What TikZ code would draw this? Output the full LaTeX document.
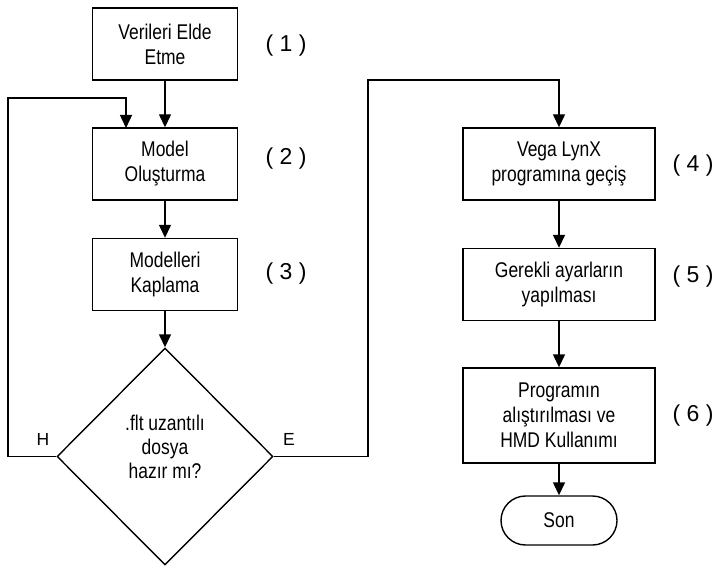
\documentclass[tikz,border=0pt]{standalone}
\usepackage{fontspec}
\setmainfont{Liberation Sans}
\newfontfamily\dar[FakeStretch=0.82]{Liberation Sans}
\usetikzlibrary{arrows.meta,shapes.geometric,shapes.misc}

\tikzset{
  kutu/.style={draw, line width=1.4pt, rectangle, minimum width=145pt,
    minimum height=72pt, inner sep=0pt, align=center,
    font=\dar\fontsize{21.3}{25}\selectfont},
  genis/.style={kutu, minimum width=192pt},
  karar/.style={draw, line width=1.4pt, diamond, inner sep=0pt,
    minimum width=216pt, minimum height=217pt},
  bitis/.style={draw, line width=1.4pt, rounded rectangle, inner sep=0pt,
    minimum width=116pt, minimum height=49pt, font=\dar\fontsize{21.3}{25}\selectfont},
  adim/.style={font=\fontsize{23}{26}\selectfont},
  yazi/.style={align=center, font=\dar\fontsize{21.3}{24}\selectfont},
  dal/.style={font=\fontsize{17.5}{20}\selectfont},
  ok/.style={line width=1.4pt, -{Triangle[length=13pt,width=12pt]}}
}

\begin{document}
\begin{tikzpicture}[x=1pt, y=-1pt, line join=miter]
      \useasboundingbox (0,0) rectangle (715,567);
      \def\sol{165}
      \def\sag{559}

      % Left column
      \node[kutu] (veri) at (\sol, 44) {Verileri Elde\\Etme};
      \node[kutu] (model) at (\sol, 164) {Model\\Oluşturma};
      \node[kutu] (kaplama) at (\sol, 274.5) {Modelleri\\Kaplama};
      \node[karar] (soru) at (\sol, 456.5) {};
      \node[yazi] (soruyazi) at (\sol, 447) {.flt uzantılı\\dosya\\hazır mı?};

      % Right column
      \node[genis] (vega) at (\sag, 164) {Vega LynX\\programına geçiş};
      \node[genis] (ayar) at (\sag, 284.5) {Gerekli ayarların\\yapılması};
      \node[genis, minimum height=95pt] (program) at (\sag, 415.5) {Programın\\alıştırılması ve\\HMD Kullanımı};
      \node[bitis] (son) at (\sag, 520.5) {Son};

      % Step numbers
      \node[adim] (n1) at (286, 46) {( 1 )};
      \node[adim] (n2) at (286, 159) {( 2 )};
      \node[adim] (n3) at (286, 274) {( 3 )};
      \node[adim] (n4) at (693, 166) {( 4 )};
      \node[adim] (n5) at (693, 277) {( 5 )};
      \node[adim] (n6) at (693, 416) {( 6 )};

      % Branch labels
      \node[dal] (hayir) at (43, 439) {H};
      \node[dal] (evet) at (289, 439) {E};

      % Loop and branch corners
      \coordinate (H1) at (8, 456.5);
      \coordinate (H2) at (8, 98);
      \coordinate (H3) at (126, 98);
      \coordinate (H4) at (126, 128);
      \coordinate (E1) at (368, 456.5);
      \coordinate (E2) at (368, 80);
      \coordinate (E3) at (\sag, 80);

      \draw[ok] (veri) -- (model);
      \draw[ok] (model) -- (kaplama);
      \draw[ok] (kaplama) -- (soru.north);
      \draw[ok] (soru.west) -- (H1) -- (H2) -- (H3) -- (H4);
      \draw[ok] (soru.east) -- (E1) -- (E2) -- (E3) -- (vega.north);
      \draw[ok] (vega) -- (ayar);
      \draw[ok] (ayar) -- (program);
      \draw[ok] (program) -- (son);

    \end{tikzpicture}
\end{document}
